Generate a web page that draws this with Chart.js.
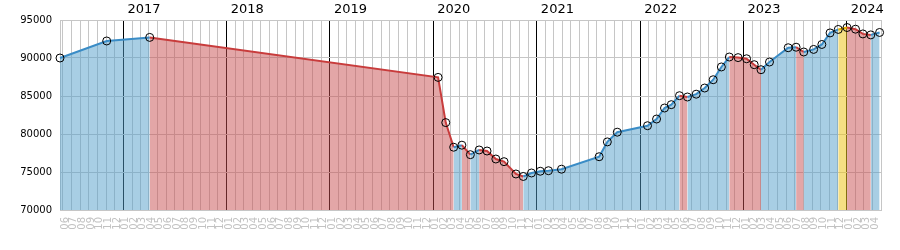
<!DOCTYPE html>
<html>
<head>
<meta charset="utf-8">
<script src="https://cdn.jsdelivr.net/npm/chart.js@4.4.1/dist/chart.umd.min.js"></script>
<style>
  html, body { margin: 0; padding: 0; background: #fff; }
  #wrap { width: 900px; height: 250px; }
</style>
</head>
<body>
<div id="wrap"><canvas id="chart" width="900" height="250"></canvas></div>
<script>
// ======================================================
// DATA
// ======================================================
const dates = [
  "2016-05-22", "2016-11-03", "2017-04-04", "2020-01-18", "2020-02-14",
  "2020-03-13", "2020-04-11", "2020-05-11", "2020-06-11", "2020-07-09",
  "2020-08-09", "2020-09-07", "2020-10-19", "2020-11-14", "2020-12-13",
  "2021-01-13", "2021-02-11", "2021-03-29", "2021-08-09", "2021-09-07",
  "2021-10-12", "2022-01-27", "2022-02-28", "2022-03-28", "2022-04-21",
  "2022-05-20", "2022-06-17", "2022-07-18", "2022-08-17", "2022-09-16",
  "2022-10-15", "2022-11-12", "2022-12-13", "2023-01-12", "2023-02-08",
  "2023-03-04", "2023-04-03", "2023-06-08", "2023-07-06", "2023-08-02",
  "2023-09-06", "2023-10-05", "2023-11-03", "2023-12-02", "2024-01-02",
  "2024-02-01", "2024-02-27", "2024-03-26", "2024-04-26"
];

const values = [
  90000, 92240, 92710, 87450, 81500,
  78260, 78530, 77280, 77900, 77760,
  76710, 76360, 74740, 74410, 74870,
  75100, 75170, 75370, 77010, 78960,
  80240, 81090, 81970, 83420, 83860,
  85040, 84870, 85240, 86050, 87140,
  88820, 90130, 90050, 89900, 89120,
  88460, 89470, 91350, 91420, 90790,
  91130, 91780, 93300, 93760, 94010,
  93790, 93170, 93040, 93360
];

// colour of each stretch between two readings: u = blue, d = red, y = yellow
const trend = [
  "u", "u", "d", "d", "d", "u", "d", "u", "d", "d",
  "d", "d", "d", "u", "u", "u", "u", "u", "u", "u",
  "u", "u", "u", "u", "u", "d", "u", "u", "u", "u",
  "u", "d", "d", "d", "d", "u", "u", "u", "d", "u",
  "u", "u", "u", "y", "d", "d", "d", "u"
];

const yearLabels = ["2017", "2018", "2019", "2020", "2021", "2022", "2023", "2024"];
const monthLabels = ["01", "02", "03", "04", "05", "06", "07", "08", "09", "10", "11", "12"];
const yTicks = [70000, 75000, 80000, 85000, 90000, 95000];


// ======================================================
// HELPERS
// ======================================================
function toTime(s) {
  const [y, m, d] = s.split("-").map(Number);
  return Date.UTC(y, m - 1, d);
}

const xMin = toTime(dates[0]);
const xMax = Date.UTC(2024, 4, 1);

const monthTicks = [];
let cur = new Date(xMin);
cur = new Date(Date.UTC(cur.getUTCFullYear(), cur.getUTCMonth() + 1, 1));
while (cur.getTime() <= xMax) {
  monthTicks.push(cur.getTime());
  cur = new Date(Date.UTC(cur.getUTCFullYear(), cur.getUTCMonth() + 1, 1));
}

const yearTicks = yearLabels.map(y => Date.UTC(Number(y), 0, 1));

const fillColors = {
  u: "rgba(81,157,201,0.5)",
  d: "rgba(199,77,79,0.5)",
  y: "rgba(236,196,30,0.55)"
};
const lineColors = {
  u: "#3a8cc6",
  d: "#c83c3c",
  y: "#e6b000"
};

const gridGray = "#c6c6c6";
const font = "'DejaVu Sans', Verdana, sans-serif";


// ======================================================
// CHART
// ======================================================
new Chart(document.getElementById("chart"), {
  type: "line",
  data: {
    datasets: [{
      data: dates.map((d, i) => ({ x: toTime(d), y: values[i] })),
      fill: "start",
      borderWidth: 2,
      borderColor: lineColors.u,
      backgroundColor: fillColors.u,
      tension: 0,
      clip: false,
      pointRadius: 4,
      pointBorderWidth: 1,
      pointBorderColor: "#000",
      pointBackgroundColor: "rgba(0,0,0,0)",
      segment: {
        borderColor: c => lineColors[trend[c.p0DataIndex]],
        backgroundColor: c => fillColors[trend[c.p0DataIndex]]
      }
    }]
  },
  options: {
    responsive: false,
    animation: false,
    devicePixelRatio: 1,
    layout: { padding: { left: 0, right: 19, top: 0, bottom: 0 } },
    plugins: {
      legend: { display: false },
      tooltip: { enabled: false }
    },
    scales: {
      x: {
        type: "linear",
        position: "bottom",
        min: xMin,
        max: xMax,
        afterBuildTicks: s => { s.ticks = monthTicks.map(v => ({ value: v })); },
        afterFit: s => { s.height = 40; },
        grid: {
          drawTicks: false,
          lineWidth: 1,
          color: c => (c.tick && new Date(c.tick.value).getUTCMonth() === 0) ? "#000" : gridGray
        },
        border: { color: gridGray },
        ticks: {
          autoSkip: false,
          minRotation: 90,
          maxRotation: 90,
          padding: 7,
          labelOffset: 2.5,
          color: "#c2c2c2",
          font: { family: font, size: 10 },
          callback: (v, i) => i === monthTicks.length - 1 ? "" : monthLabels[new Date(v).getUTCMonth()]
        }
      },
      xTop: {
        type: "linear",
        position: "top",
        min: xMin,
        max: xMax,
        afterBuildTicks: s => { s.ticks = yearTicks.map(v => ({ value: v })); },
        afterFit: s => { s.height = 20; },
        grid: { display: false, drawTicks: false },
        border: { display: false },
        ticks: {
          autoSkip: false,
          maxRotation: 0,
          align: "start",
          labelOffset: 4,
          padding: 3,
          color: "#000",
          font: { family: font, size: 13 },
          callback: (v, i) => yearLabels[i]
        }
      },
      y: {
        min: 70000,
        max: 95000,
        afterBuildTicks: s => { s.ticks = yTicks.map(v => ({ value: v })); },
        afterFit: s => { s.width = 60; },
        grid: { color: gridGray, drawTicks: false },
        border: { color: gridGray },
        ticks: {
          padding: 8,
          color: "#000",
          font: { family: font, size: 10 },
          callback: v => String(v)
        }
      }
    }
  }
});
</script>
</body>
</html>
